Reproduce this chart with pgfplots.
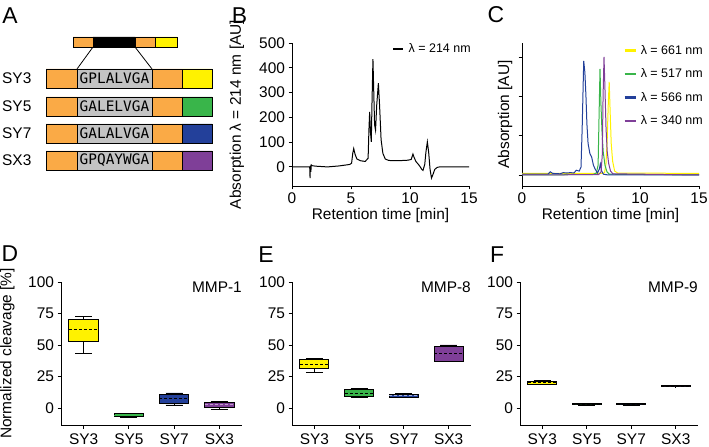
\documentclass[border=0pt]{standalone}
\usepackage{fontspec}
\setmainfont{Liberation Sans}
\newfontfamily\seqfont{DejaVu Sans Mono}
\usepackage{pgfplots}
\pgfplotsset{compat=1.18}
\usepgfplotslibrary{statistics}

\definecolor{orA}{RGB}{250,170,70}
\definecolor{yA}{RGB}{255,242,0}
\definecolor{gA}{RGB}{57,181,74}
\definecolor{bA}{RGB}{35,64,154}
\definecolor{pA}{RGB}{127,63,152}
\definecolor{grA}{RGB}{195,195,195}

\newcommand{\fs}[1]{\fontsize{#1}{#1}\selectfont}

\pgfplotsset{
 myaxis/.style={
  scale only axis, anchor=south west,
  axis lines=left, axis line style={-, line width=0.9bp},
  tick align=outside, major tick length=3.5bp,
  tick style={line width=0.9bp, black},
  every tick label/.append style={font=\fs{15.5}},
  every x tick label/.append style={inner sep=1bp, yshift=-2.5bp},
  /pgf/number format/assume math mode=true,
  label style={font=\fs{15.5}, inner sep=1bp},
  clip=false,
 },
 boxaxis/.style={
  myaxis, height=143bp, xmin=0.5, xmax=4.5, ymin=-13.5, ymax=100,
  xtick={1,2,3,4}, xticklabels={SY3,SY5,SY7,SX3}, ytick={0,25,50,75,100},
  every x tick label/.append style={yshift=-1.5bp},
 },
}

\newcommand\seg[5]{\addplot[fill=#1, draw=black, line width=0.8bp] coordinates {(#2,#4) (#3,#4) (#3,#5) (#2,#5) (#2,#4)};}
\newcommand\bx[8]{\addplot[boxplot/draw direction=y, boxplot prepared={lower whisker=#3, lower quartile=#4, median=#5, upper quartile=#6, upper whisker=#7, draw position=#1, box extend=0.65, whisker extend=0.38}, fill=#2, draw=black, line width=0.9bp, boxplot/every median/.style={draw=#8, dash pattern=on 3bp off 2bp, line width=1bp}] coordinates {};}

\begin{document}
\begin{tikzpicture}
\path[use as bounding box] (0,0) rectangle (709bp,447bp);

% ---------- Panel A ----------
\begin{axis}[at={(0bp,267bp)}, anchor=south west, scale only axis, width=230bp, height=180bp,
  xmin=0, xmax=230, ymin=0, ymax=180, y dir=reverse, hide axis, clip=false]
 \seg{orA}{73}{93}{37}{47}
 \seg{black}{93}{135}{37}{47}
 \seg{orA}{135}{155}{37}{47}
 \seg{yA}{155}{177}{37}{47}
 \addplot[black, line width=0.8bp] coordinates {(93,47) (77,69)};
 \addplot[black, line width=0.8bp] coordinates {(135,47) (152,69)};
 % rows
 \seg{orA}{46}{77}{69}{88} \seg{grA}{77}{152}{69}{88} \seg{orA}{152}{182}{69}{88} \seg{yA}{182}{212}{69}{88}
 \seg{orA}{46}{77}{97}{116} \seg{grA}{77}{152}{97}{116} \seg{orA}{152}{182}{97}{116} \seg{gA}{182}{212}{97}{116}
 \seg{orA}{46}{77}{124}{143} \seg{grA}{77}{152}{124}{143} \seg{orA}{152}{182}{124}{143} \seg{bA}{182}{212}{124}{143}
 \seg{orA}{46}{77}{151}{170} \seg{grA}{77}{152}{151}{170} \seg{orA}{152}{182}{151}{170} \seg{pA}{182}{212}{151}{170}
 \node[anchor=west, font=\fs{15.5}, inner sep=0pt] at (axis cs:2,78.5) {SY3};
 \node[anchor=west, font=\fs{15.5}, inner sep=0pt] at (axis cs:2,106.5) {SY5};
 \node[anchor=west, font=\fs{15.5}, inner sep=0pt] at (axis cs:2,133.5) {SY7};
 \node[anchor=west, font=\fs{15.5}, inner sep=0pt] at (axis cs:2,160.5) {SX3};
 \node[font=\seqfont\fs{14.5}] at (axis cs:114.5,78.5) {GPLALVGA};
 \node[font=\seqfont\fs{14.5}] at (axis cs:114.5,106.5) {GALELVGA};
 \node[font=\seqfont\fs{14.5}] at (axis cs:114.5,133.5) {GALALVGA};
 \node[font=\seqfont\fs{14.5}] at (axis cs:114.5,160.5) {GPQAYWGA};
\end{axis}

% ---------- Panel B ----------
\begin{axis}[myaxis, at={(292bp,261bp)}, width=177bp, height=143bp,
  xmin=0, xmax=15, ymin=-77, ymax=500, xtick={0,5,10,15}, ytick={0,100,200,300,400,500},
  xlabel={Retention time [min]}, ylabel={Absorption λ = 214 nm [AU]},
  xlabel style={at={(axis description cs:0.5,-0.205)}, anchor=center},
  ylabel style={at={(axis description cs:-0.311,0.5)}, anchor=center},
  legend style={draw=none, fill=none, at={(axis description cs:0.565,0.958)}, anchor=west,
    font=\fs{12.5}, inner sep=0pt, column sep=2bp},
  legend image code/.code={\draw[#1, line width=2.5bp] (0bp,0bp) -- (10bp,0bp);}]
 \addplot[black, line width=1bp] coordinates {
 (0,0) (1.50,0) (1.53,-45) (1.56,5) (1.60,-20) (1.63,8) (1.70,5) (2.0,3) (3.0,0) (4.0,4)
 (4.9,10) (5.05,15) (5.15,55) (5.23,74) (5.35,50) (5.5,32) (5.8,25) (6.2,22) (6.45,35)
 (6.52,150) (6.58,222) (6.65,140) (6.72,101) (6.78,260) (6.86,435) (6.93,300) (7.0,170)
 (7.08,148) (7.18,250) (7.32,338) (7.42,250) (7.55,110) (7.7,55) (7.9,32) (8.2,26) (9.0,25)
 (9.8,27) (10.1,30) (10.25,52) (10.35,38) (10.5,22) (10.8,5) (11.0,-10) (11.1,-14) (11.25,10)
 (11.35,60) (11.47,101) (11.58,60) (11.7,-10) (11.82,-45) (11.95,-30) (12.1,-10) (12.3,-2)
 (12.5,0) (15,0)};
 \addlegendentry{λ = 214 nm}
\end{axis}

% ---------- Panel C ----------
\begin{axis}[myaxis, at={(522bp,261bp)}, width=177bp, height=143bp,
  xmin=0, xmax=15, ymin=-0.28, ymax=3.356, xtick={0,5,10,15}, ytick={0,1,2,3}, yticklabels={},
  xlabel={Retention time [min]}, ylabel={Absorption [AU]},
  xlabel style={at={(axis description cs:0.5,-0.205)}, anchor=center},
  ylabel style={at={(axis description cs:-0.096,0.5)}, anchor=center},
  legend style={draw=none, fill=none, at={(axis description cs:0.571,1.0)}, anchor=north west,
    font=\fs{12.5}, inner sep=0pt, column sep=2bp, row sep=9bp},
  legend cell align=left,
  legend image code/.code={\draw[#1, line width=2.5bp] (0bp,0bp) -- (11bp,0bp);}]
 \addplot[yA, line width=1bp] coordinates {
 (0,0.04) (6.8,0.04) (7.0,0.06) (7.12,0.3) (7.22,0.9) (7.31,1.8) (7.39,2.37) (7.47,1.6)
 (7.56,0.8) (7.68,0.35) (7.85,0.1) (8.1,0.05) (15,0.04)};
 \addlegendentry{λ = 661 nm}
 \addplot[gA, line width=1bp] coordinates {
 (0,0) (6.0,0.01) (6.3,0.05) (6.45,0.25) (6.53,1.5) (6.61,2.7) (6.69,1.8) (6.78,1.1)
 (6.88,0.6) (7.03,0.25) (7.2,0.08) (7.4,0.02) (15,0)};
 \addlegendentry{λ = 517 nm}
 \addplot[bA, line width=1bp] coordinates {
 (0,0.02) (2.2,0.02) (2.4,0.08) (2.6,0.04) (3.2,0.03) (3.5,0.06) (3.8,0.05) (4.1,0.06)
 (4.4,0.05) (4.6,0.12) (4.85,0.1) (5.0,0.2) (5.1,1.2) (5.23,2.9) (5.33,2.6) (5.42,2.0)
 (5.5,1.3) (5.6,0.8) (5.75,0.55) (5.9,0.46) (6.05,0.25) (6.2,0.15) (6.4,0.05) (6.55,0.15)
 (6.64,0.28) (6.75,0.1) (6.9,0.02) (7.3,0) (15,0)};
 \addlegendentry{λ = 566 nm}
 \addplot[pA, line width=1bp] coordinates {
 (0,0) (6.5,0.01) (6.7,0.08) (6.8,0.5) (6.87,2.0) (6.95,3.0) (7.03,2.2) (7.12,1.2)
 (7.22,0.6) (7.34,0.3) (7.5,0.1) (7.7,0.03) (15,0)};
 \addlegendentry{λ = 340 nm}
\end{axis}

% ---------- Panel D ----------
\begin{axis}[boxaxis, at={(61bp,22bp)}, width=181bp,
  ylabel={Normalized cleavage [\%]},
  ylabel style={at={(axis description cs:-0.296,0.5)}, anchor=center}]
 \bx{1}{yA}{42.9}{52.6}{62.4}{70.4}{73}{black}
 \bx{2}{gA}{-7.5}{-7}{-5.8}{-4.5}{-4}{gA}
 \bx{3}{bA}{2.4}{3.3}{7.8}{10.8}{11.9}{black}
 \bx{4}{pA}{-1.3}{0.8}{3.0}{4.7}{5.5}{pA!50!white}
 \node[anchor=east, font=\fs{15.5}, inner sep=0pt] at (axis description cs:1,0.965) {MMP-1};
\end{axis}

% ---------- Panel E ----------
\begin{axis}[boxaxis, at={(292bp,22bp)}, width=179bp]
 \bx{1}{yA}{28.3}{31}{34.9}{38.6}{39.4}{black}
 \bx{2}{gA}{8}{8.8}{11.8}{14.8}{15.8}{black}
 \bx{3}{bA}{8.2}{8.6}{10}{10.8}{11.4}{bA!40!white}
 \bx{4}{pA}{36.8}{37.2}{43.1}{49.2}{50}{black}
 \node[anchor=east, font=\fs{15.5}, inner sep=0pt] at (axis description cs:1,0.965) {MMP-8};
\end{axis}

% ---------- Panel F ----------
\begin{axis}[boxaxis, at={(520bp,22bp)}, width=178bp]
 \bx{1}{yA}{18.3}{18.8}{20}{20.8}{21.5}{black}
 \bx{2}{gA}{2.3}{2.6}{3}{3.4}{3.8}{black}
 \bx{3}{bA}{2.3}{2.6}{3}{3.4}{3.8}{black}
 \bx{4}{pA}{16.8}{17}{17.4}{17.8}{18.2}{black}
 \node[anchor=east, font=\fs{15.5}, inner sep=0pt] at (axis description cs:1,0.965) {MMP-9};
\end{axis}

% panel letters
\node[font=\fs{23}] at (10bp,431bp) {A};
\node[font=\fs{23}] at (239.5bp,431bp) {B};
\node[font=\fs{23}] at (496bp,432bp) {C};
\node[font=\fs{23}] at (10bp,193bp) {D};
\node[font=\fs{23}] at (266bp,192bp) {E};
\node[font=\fs{23}] at (497bp,192bp) {F};
\end{tikzpicture}
\end{document}
